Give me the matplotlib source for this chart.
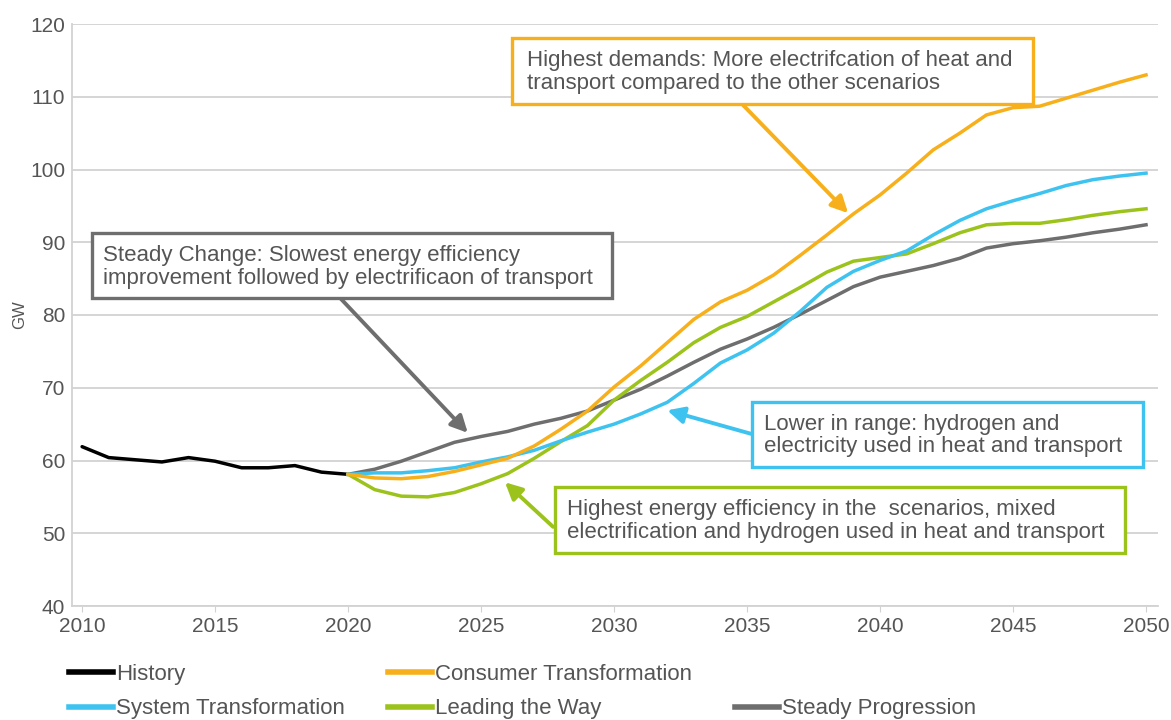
import matplotlib
matplotlib.use("Agg")
import matplotlib.pyplot as plt
from matplotlib.lines import Line2D
from matplotlib.patches import Rectangle

# history and scenario demand, GW
hist_years = list(range(2010, 2021))
history = [61.9, 60.4, 60.1, 59.8, 60.4, 59.9, 59.0, 59.0, 59.3, 58.4, 58.1]

scen_years = list(range(2020, 2051))
consumer = [58.1, 57.6, 57.5, 57.8, 58.5, 59.4, 60.3, 62.0, 64.3, 66.8,
            70.1, 73.0, 76.2, 79.4, 81.8, 83.4, 85.5, 88.2, 91.0, 93.9,
            96.5, 99.5, 102.7, 105.0, 107.5, 108.5, 108.7, 109.8, 110.9, 112.0, 113.0]
system = [58.1, 58.3, 58.3, 58.6, 59.0, 59.8, 60.5, 61.4, 62.7, 63.9,
          65.0, 66.4, 68.0, 70.6, 73.4, 75.2, 77.5, 80.5, 83.8, 86.0,
          87.5, 88.8, 91.0, 93.0, 94.6, 95.7, 96.7, 97.8, 98.6, 99.1, 99.5]
leading = [58.1, 56.0, 55.1, 55.0, 55.6, 56.8, 58.2, 60.3, 62.6, 64.8,
           68.3, 71.0, 73.5, 76.2, 78.3, 79.8, 81.8, 83.8, 85.9, 87.4,
           87.9, 88.4, 89.8, 91.3, 92.4, 92.6, 92.6, 93.1, 93.7, 94.2, 94.6]
steady = [58.1, 58.8, 59.9, 61.2, 62.5, 63.3, 64.0, 65.0, 65.8, 66.8,
          68.3, 69.8, 71.6, 73.5, 75.3, 76.7, 78.3, 80.1, 82.0, 83.9,
          85.2, 86.0, 86.8, 87.8, 89.2, 89.8, 90.2, 90.7, 91.3, 91.8, 92.4]

C_HIST = "#000000"
C_CONS = "#f7b01b"
C_SYS = "#3ec3f0"
C_LEAD = "#9cc31c"
C_STEADY = "#6e6e6e"
TXT = "#555555"

plt.rcParams["font.family"] = ["Liberation Sans", "DejaVu Sans"]

fig = plt.figure(figsize=(11.71, 7.2), dpi=100)
ax = fig.add_axes([72 / 1171, 1 - 606 / 720, 1086 / 1171, 582 / 720])

lw = 2.5
ax.plot(hist_years, history, color=C_HIST, lw=lw, solid_capstyle="round")
ax.plot(scen_years, steady, color=C_STEADY, lw=lw)
ax.plot(scen_years, leading, color=C_LEAD, lw=lw)
ax.plot(scen_years, system, color=C_SYS, lw=lw)
ax.plot(scen_years, consumer, color=C_CONS, lw=lw)

ax.set_xlim(2009.62, 2050.45)
ax.set_ylim(40, 120)
ax.set_xticks(range(2010, 2051, 5))
ax.set_yticks(range(40, 121, 10))
ax.grid(axis="y", color="#d2d2d2", lw=1.3)
ax.set_axisbelow(True)
for s in ["top", "right"]:
    ax.spines[s].set_visible(False)
for s in ["left", "bottom"]:
    ax.spines[s].set_color("#d2d2d2")
    ax.spines[s].set_linewidth(1.3)
ax.tick_params(axis="both", labelsize=15, colors=TXT, length=0, pad=5)
ax.tick_params(axis="x", length=4, color="#d2d2d2", pad=4)
ax.set_ylabel("GW", fontsize=12, color=TXT, labelpad=2)


def box(x0, y0, x1, y1, color, text, tx, ty):
    ax.add_patch(Rectangle((x0, y0), x1 - x0, y1 - y0, transform=ax.transAxes,
                           facecolor="white", edgecolor=color, lw=2.4, zorder=5))
    ax.text(tx, ty, text, transform=ax.transAxes, fontsize=16, color=TXT,
            va="center", ha="left", linespacing=1.12, zorder=6)


def arrow(tip, start, color):
    ax.annotate("", xy=tip, xycoords="data", xytext=start, textcoords="axes fraction",
                arrowprops=dict(arrowstyle="-|>,head_length=1.0,head_width=0.5",
                                color=color, lw=2.8, shrinkA=0, shrinkB=0),
                zorder=4)


arrow((2038.8, 94.0), (0.617, 0.8625), C_CONS)
arrow((2024.5, 63.8), (0.247, 0.529), C_STEADY)
arrow((2032.0, 66.9), (0.626, 0.2955), C_SYS)
arrow((2025.9, 57.0), (0.443, 0.136), C_LEAD)

box(0.405, 0.8625, 0.885, 0.976, C_CONS,
    "Highest demands: More electrifcation of heat and\ntransport compared to the other scenarios",
    0.419, 0.917)
box(0.018, 0.529, 0.497, 0.641, C_STEADY,
    "Steady Change: Slowest energy efficiency\nimprovement followed by electrificaon of transport",
    0.029, 0.583)
box(0.626, 0.239, 0.986, 0.3505, C_SYS,
    "Lower in range: hydrogen and\nelectricity used in heat and transport",
    0.637, 0.293)
box(0.445, 0.091, 0.970, 0.2045, C_LEAD,
    "Highest energy efficiency in the  scenarios, mixed\nelectrification and hydrogen used in heat and transport",
    0.456, 0.146)

handles = [
    Line2D([], [], color=C_HIST, lw=4),
    Line2D([], [], color=C_SYS, lw=4),
    Line2D([], [], color=C_CONS, lw=4),
    Line2D([], [], color=C_LEAD, lw=4),
    Line2D([], [], color="none", lw=0),
    Line2D([], [], color=C_STEADY, lw=4),
]
labels = ["History", "System Transformation", "Consumer Transformation",
          "Leading the Way", "", "Steady Progression"]
leg = fig.legend(handles, labels, ncol=3, loc="upper left",
                 bbox_to_anchor=(62 / 1171, 1 - 657 / 720), frameon=False,
                 handlelength=2.0, handletextpad=0.15, columnspacing=1.9,
                 labelspacing=0.62, borderaxespad=0, borderpad=0.3,
                 prop={"size": 16})
for t in leg.get_texts():
    t.set_color(TXT)

fig.savefig("out.png", dpi=100)
